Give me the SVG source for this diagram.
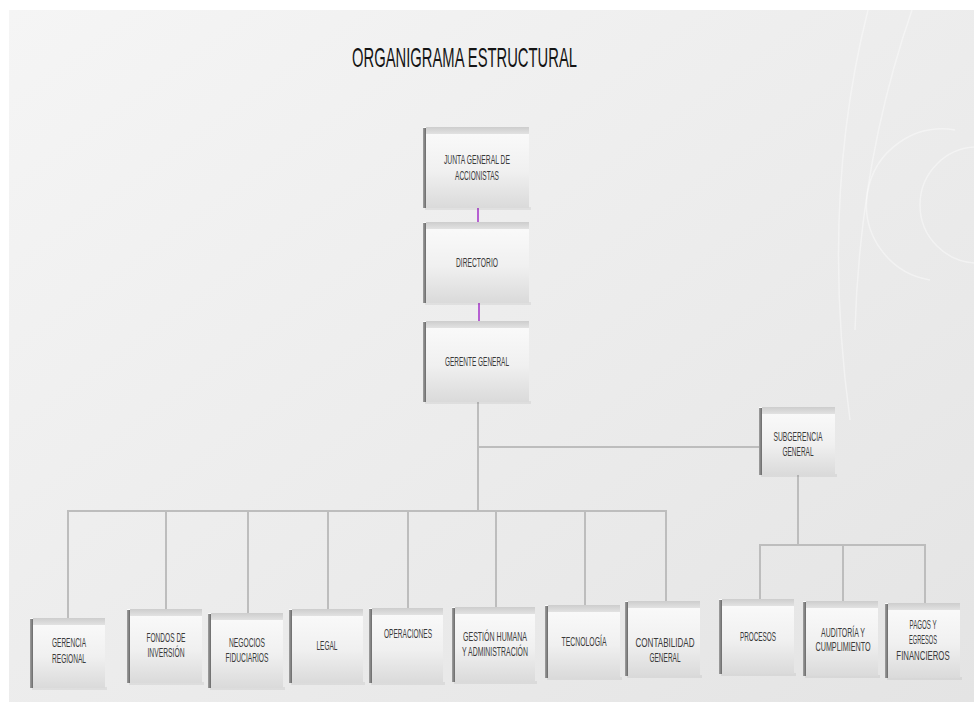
<svg xmlns="http://www.w3.org/2000/svg" width="974" height="709" viewBox="0 0 974 709">
<defs>
<linearGradient id="bg" x1="0" y1="0" x2="1" y2="1">
<stop offset="0" stop-color="#f5f5f5"/>
<stop offset="1" stop-color="#e4e4e4"/>
</linearGradient>
<linearGradient id="face" x1="0" y1="0" x2="0" y2="1">
<stop offset="0" stop-color="#fbfbfb"/>
<stop offset="0.55" stop-color="#f0f0f0"/>
<stop offset="1" stop-color="#dadada"/>
</linearGradient>
<linearGradient id="bevel" x1="0" y1="0" x2="0" y2="1">
<stop offset="0" stop-color="#cdcdcd"/>
<stop offset="1" stop-color="#e2e2e2"/>
</linearGradient>
<linearGradient id="side" x1="0" y1="0" x2="1" y2="0">
<stop offset="0" stop-color="#a0a0a0"/>
<stop offset="1" stop-color="#6a6a6a"/>
</linearGradient>
</defs>
<style>
.lbl{font-family:"Liberation Sans",Arial,sans-serif;font-size:12px;fill:#3a3a3a;text-anchor:middle}
.title{font-family:"Liberation Sans",Arial,sans-serif;font-size:28px;fill:#151515}
.face{fill:url(#face)}
.bevel{fill:url(#bevel)}
.side{fill:url(#side)}
.shadow{fill:#000;opacity:0.06}
.con{stroke:#bdbdbd;stroke-width:2;fill:none}
.pur{stroke:#a331c8;stroke-width:1.5;fill:none}
.deco{fill:none;stroke:#ffffff;stroke-opacity:0.4;stroke-width:1.5}
</style>
<rect width="974" height="709" fill="#ffffff"/>
<rect x="9" y="10" width="965" height="692" fill="url(#bg)"/>
<g id="decoration">
<path class="deco" d="M 868 10 Q 820 200 850 420"/>
<path class="deco" d="M 912 10 Q 860 160 855 330"/>
<circle class="deco" cx="978" cy="205" r="58"/>
<path class="deco" d="M 955 130 A 76 76 0 0 0 930 280"/>
</g>
<text class="title" x="352" y="67" textLength="225" lengthAdjust="spacingAndGlyphs">ORGANIGRAMA ESTRUCTURAL</text>
<g id="connectors">
<line class="pur" x1="478" y1="206" x2="478" y2="230"/>
<line class="pur" x1="479" y1="301" x2="479" y2="329"/>
<line class="con" x1="478" y1="402" x2="478" y2="512"/>
<line class="con" x1="478" y1="447" x2="760" y2="447"/>
<line class="con" x1="67" y1="511" x2="667" y2="511"/>
<line class="con" x1="68" y1="511" x2="68" y2="618"/>
<line class="con" x1="166" y1="511" x2="166" y2="609"/>
<line class="con" x1="248" y1="511" x2="248" y2="613"/>
<line class="con" x1="328" y1="511" x2="328" y2="609"/>
<line class="con" x1="408" y1="511" x2="408" y2="608"/>
<line class="con" x1="496" y1="511" x2="496" y2="607"/>
<line class="con" x1="585" y1="511" x2="585" y2="605"/>
<line class="con" x1="666" y1="511" x2="666" y2="601"/>
<line class="con" x1="798" y1="475" x2="798" y2="545"/>
<line class="con" x1="759" y1="545" x2="926" y2="545"/>
<line class="con" x1="760" y1="545" x2="760" y2="599"/>
<line class="con" x1="843" y1="545" x2="843" y2="601"/>
<line class="con" x1="925" y1="545" x2="925" y2="603"/>
</g>
<g id="junta">
<rect class="shadow" x="425" y="207" width="106" height="3"/>
<rect class="face" x="423" y="127" width="106" height="81"/>
<rect class="bevel" x="426" y="127" width="103" height="7"/>
<rect class="side" x="423" y="128" width="3" height="80"/>
<text class="lbl" x="477" y="164" textLength="66" lengthAdjust="spacingAndGlyphs">JUNTA GENERAL DE</text>
<text class="lbl" x="477" y="180" textLength="44" lengthAdjust="spacingAndGlyphs">ACCIONISTAS</text>
</g>
<g id="directorio">
<rect class="shadow" x="425" y="302" width="106" height="3"/>
<rect class="face" x="423" y="222" width="106" height="81"/>
<rect class="bevel" x="426" y="222" width="103" height="7"/>
<rect class="side" x="423" y="223" width="3" height="80"/>
<text class="lbl" x="477" y="267" textLength="42" lengthAdjust="spacingAndGlyphs">DIRECTORIO</text>
</g>
<g id="gerente">
<rect class="shadow" x="425" y="401" width="106" height="3"/>
<rect class="face" x="423" y="321" width="106" height="81"/>
<rect class="bevel" x="426" y="321" width="103" height="7"/>
<rect class="side" x="423" y="322" width="3" height="80"/>
<text class="lbl" x="477" y="366" textLength="64" lengthAdjust="spacingAndGlyphs">GERENTE GENERAL</text>
</g>
<g id="subgerencia">
<rect class="shadow" x="761" y="474" width="76" height="3"/>
<rect class="face" x="759" y="407" width="76" height="68"/>
<rect class="bevel" x="762" y="407" width="73" height="7"/>
<rect class="side" x="759" y="408" width="3" height="67"/>
<text class="lbl" x="798" y="441" textLength="49" lengthAdjust="spacingAndGlyphs">SUBGERENCIA</text>
<text class="lbl" x="798" y="456" textLength="31" lengthAdjust="spacingAndGlyphs">GENERAL</text>
</g>
<g id="gerencia-regional">
<rect class="shadow" x="32" y="687" width="75" height="3"/>
<rect class="face" x="30" y="618" width="75" height="70"/>
<rect class="bevel" x="33" y="618" width="72" height="7"/>
<rect class="side" x="30" y="619" width="3" height="69"/>
<text class="lbl" x="69" y="647" textLength="34" lengthAdjust="spacingAndGlyphs">GERENCIA</text>
<text class="lbl" x="69" y="663" textLength="34" lengthAdjust="spacingAndGlyphs">REGIONAL</text>
</g>
<g id="fondos">
<rect class="shadow" x="129" y="682" width="75" height="3"/>
<rect class="face" x="127" y="609" width="75" height="74"/>
<rect class="bevel" x="130" y="609" width="72" height="7"/>
<rect class="side" x="127" y="610" width="3" height="73"/>
<text class="lbl" x="166" y="642" textLength="39" lengthAdjust="spacingAndGlyphs">FONDOS DE</text>
<text class="lbl" x="166" y="657" textLength="37" lengthAdjust="spacingAndGlyphs">INVERSIÓN</text>
</g>
<g id="negocios">
<rect class="shadow" x="210" y="687" width="75" height="3"/>
<rect class="face" x="208" y="613" width="75" height="75"/>
<rect class="bevel" x="211" y="613" width="72" height="7"/>
<rect class="side" x="208" y="614" width="3" height="74"/>
<text class="lbl" x="247" y="647" textLength="36" lengthAdjust="spacingAndGlyphs">NEGOCIOS</text>
<text class="lbl" x="247" y="662" textLength="43" lengthAdjust="spacingAndGlyphs">FIDUCIARIOS</text>
</g>
<g id="legal">
<rect class="shadow" x="291" y="682" width="74" height="3"/>
<rect class="face" x="289" y="609" width="74" height="74"/>
<rect class="bevel" x="292" y="609" width="71" height="7"/>
<rect class="side" x="289" y="610" width="3" height="73"/>
<text class="lbl" x="327" y="650" textLength="21" lengthAdjust="spacingAndGlyphs">LEGAL</text>
</g>
<g id="operaciones">
<rect class="shadow" x="371" y="682" width="74" height="3"/>
<rect class="face" x="369" y="608" width="74" height="75"/>
<rect class="bevel" x="372" y="608" width="71" height="7"/>
<rect class="side" x="369" y="609" width="3" height="74"/>
<text class="lbl" x="408" y="638" textLength="48" lengthAdjust="spacingAndGlyphs">OPERACIONES</text>
</g>
<g id="gestion-humana">
<rect class="shadow" x="454" y="681" width="83" height="3"/>
<rect class="face" x="452" y="607" width="83" height="75"/>
<rect class="bevel" x="455" y="607" width="80" height="7"/>
<rect class="side" x="452" y="608" width="3" height="74"/>
<text class="lbl" x="495" y="641" textLength="64" lengthAdjust="spacingAndGlyphs">GESTIÓN HUMANA</text>
<text class="lbl" x="495" y="656" textLength="66" lengthAdjust="spacingAndGlyphs">Y ADMINISTRACIÓN</text>
</g>
<g id="tecnologia">
<rect class="shadow" x="547" y="677" width="75" height="3"/>
<rect class="face" x="545" y="605" width="75" height="73"/>
<rect class="bevel" x="548" y="605" width="72" height="7"/>
<rect class="side" x="545" y="606" width="3" height="72"/>
<text class="lbl" x="584" y="646" textLength="45" lengthAdjust="spacingAndGlyphs">TECNOLOGÍA</text>
</g>
<g id="contabilidad">
<rect class="shadow" x="627" y="675" width="75" height="3"/>
<rect class="face" x="625" y="601" width="75" height="75"/>
<rect class="bevel" x="628" y="601" width="72" height="7"/>
<rect class="side" x="625" y="602" width="3" height="74"/>
<text class="lbl" x="665" y="647" textLength="59" lengthAdjust="spacingAndGlyphs">CONTABILIDAD</text>
<text class="lbl" x="665" y="662" textLength="31" lengthAdjust="spacingAndGlyphs">GENERAL</text>
</g>
<g id="procesos">
<rect class="shadow" x="721" y="673" width="75" height="3"/>
<rect class="face" x="719" y="599" width="75" height="75"/>
<rect class="bevel" x="722" y="599" width="72" height="7"/>
<rect class="side" x="719" y="600" width="3" height="74"/>
<text class="lbl" x="758" y="641" textLength="36" lengthAdjust="spacingAndGlyphs">PROCESOS</text>
</g>
<g id="auditoria">
<rect class="shadow" x="805" y="675" width="75" height="3"/>
<rect class="face" x="803" y="601" width="75" height="75"/>
<rect class="bevel" x="806" y="601" width="72" height="7"/>
<rect class="side" x="803" y="602" width="3" height="74"/>
<text class="lbl" x="843" y="637" textLength="44" lengthAdjust="spacingAndGlyphs">AUDITORÍA Y</text>
<text class="lbl" x="843" y="651" textLength="55" lengthAdjust="spacingAndGlyphs">CUMPLIMIENTO</text>
</g>
<g id="pagos">
<rect class="shadow" x="887" y="677" width="75" height="3"/>
<rect class="face" x="885" y="603" width="75" height="75"/>
<rect class="bevel" x="888" y="603" width="72" height="7"/>
<rect class="side" x="885" y="604" width="3" height="74"/>
<text class="lbl" x="923" y="629" textLength="27" lengthAdjust="spacingAndGlyphs">PAGOS Y</text>
<text class="lbl" x="923" y="644" textLength="28" lengthAdjust="spacingAndGlyphs">EGRESOS</text>
<text class="lbl" transform="translate(923 660) scale(0.65 1)" x="0" y="0" font-size="11">FINANCIEROS</text>
</g>
</svg>
